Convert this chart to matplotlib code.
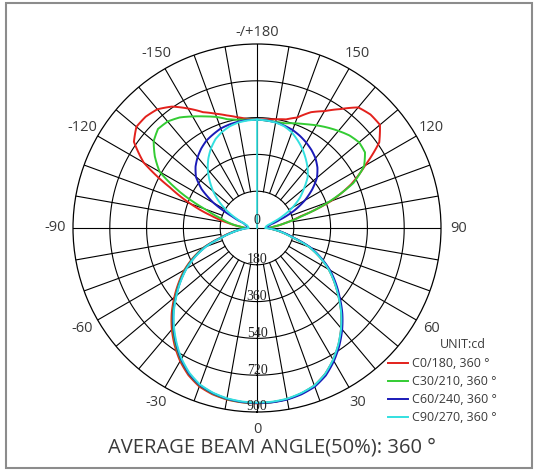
import numpy as np
import matplotlib
matplotlib.use('Agg')
import matplotlib.pyplot as plt
from matplotlib.patches import Rectangle

# gamma angles, -180..180 in 5 deg steps (0 = straight down)
angles = list(range(-180, 181, 5))

# luminous intensity per C plane (cd)
c0_180 = [530, 535, 550, 570, 595, 625, 675, 725, 758, 770, 770, 735, 640, 470, 345, 230, 145, 85, 55,
          82, 128, 185, 275, 345, 410, 468, 528, 590, 648, 702, 752, 794, 825, 842, 852, 856,
          858,
          855, 850, 838, 820, 788, 745, 695, 640, 582, 520, 462, 405, 340, 272, 180, 125, 80,
          55, 85, 140, 220, 385, 510, 610, 730, 785, 785, 770, 710, 660, 625, 575, 550, 540, 533, 530]
c30_210 = [530, 532, 537, 550, 578, 602, 630, 660, 680, 685, 660, 610, 550, 415, 270, 185, 135, 85, 55,
           80, 125, 180, 272, 340, 405, 462, 520, 582, 640, 695, 745, 788, 820, 838, 850, 855,
           856,
           855, 850, 838, 822, 790, 747, 697, 642, 584, 522, 464, 407, 342, 274, 182, 128, 82,
           55, 85, 140, 230, 375, 520, 605, 645, 652, 640, 620, 600, 580, 560, 545, 530, 527, 528, 530]
c60_240 = [530, 530, 528, 524, 518, 506, 494, 475, 452, 425, 390, 330, 245, 135, 70, 58, 50, 46, 45,
           78, 122, 178, 268, 336, 400, 458, 516, 578, 636, 690, 742, 786, 818, 836, 848, 854,
           856,
           856, 852, 842, 826, 796, 752, 702, 648, 590, 528, 470, 412, 345, 278, 186, 130, 85,
           50, 50, 55, 70, 120, 200, 270, 330, 383, 418, 445, 465, 482, 497, 510, 518, 525, 528, 530]
c90_270 = [530, 528, 524, 515, 500, 480, 450, 415, 375, 328, 280, 228, 172, 115, 70, 50, 45, 42, 40,
           76, 120, 176, 265, 334, 398, 456, 514, 575, 632, 686, 738, 782, 815, 834, 846, 852,
           854,
           853, 848, 836, 820, 788, 744, 694, 640, 582, 520, 462, 405, 340, 272, 180, 126, 80,
           40, 42, 45, 55, 85, 140, 200, 255, 300, 350, 385, 415, 445, 472, 498, 515, 524, 528, 530]

series = [c0_180, c30_210, c60_240, c90_270]
names = ['C0/180, 360 °', 'C30/210, 360 °', 'C60/240, 360 °', 'C90/270, 360 °']
colors = ['#e3211c', '#33cc33', '#1a1ab8', '#33e0e0']

ring_vals = [180, 360, 540, 720, 900]
tick_angles = [-180, -150, -120, -90, -60, -30, 0, 30, 60, 90, 120, 150]
tick_text = ['-/+180', '-150', '-120', '-90', '-60', '-30', '0',
             '30', '60', '90', '120', '150']

W, H = 534, 470
fig = plt.figure(figsize=(W / 100, H / 100), dpi=100)
cx, cy, R = 257, 228, 184
ax = fig.add_axes([(cx - R) / W, (H - cy - R) / H, 2 * R / W, 2 * R / H],
                  projection='polar')
ax.set_theta_zero_location('S')
ax.set_theta_direction(1)
ax.set_ylim(0, 900)
ax.grid(False)
ax.set_xticks([])
ax.set_yticks([])
ax.spines['polar'].set_linewidth(0.9)
ax.spines['polar'].set_color('black')

# grid: rings and spokes
tt = np.linspace(0, 2 * np.pi, 361)
for rv in ring_vals[:-1]:
    ax.plot(tt, np.full_like(tt, rv), color='black', lw=0.8)
for a in range(0, 360, 10):
    t = np.deg2rad(a)
    r0 = 0 if a % 90 == 0 else 180
    ax.plot([t, t], [r0, 900], color='black', lw=0.8)

th = np.deg2rad(angles)
lines = []
for vals, nm, col in zip(series, names, colors):
    ln, = ax.plot(th, vals, color=col, lw=1.4, label=nm)
    # draw segments as polar arcs rather than straight chords
    ln.get_path()._interpolation_steps = 20
    lines.append(ln)
# axis line of the C90 plane up to the 180 deg value
ax.plot([np.pi, np.pi], [0, c90_270[0]], color=colors[3], lw=1.2)

txtc = '#3a3a3a'
for a, s in zip(tick_angles, tick_text):
    r = 955 if a == -180 else 985
    ax.text(np.deg2rad(a), r, s, ha='center', va='center', fontsize=10.5,
            color=txtc, family='Open Sans', clip_on=False)

# radial scale along the 0 deg axis
for rv in ring_vals:
    ax.text(0, rv - 25, str(rv), ha='center', va='center', fontsize=10,
            family='Liberation Serif', color='#222222')
ax.text(np.pi, 35, '0', ha='center', va='center', fontsize=10,
        family='Liberation Serif', color='#222222')

leg = fig.legend(handles=lines, loc='upper left',
                 bbox_to_anchor=(388 / W, 1 - 357 / H),
                 frameon=False, handlelength=1.6,
                 handletextpad=0.3, labelspacing=0.4, borderpad=0,
                 borderaxespad=0, prop={'family': 'Open Sans', 'size': 9})
for t in leg.get_texts():
    t.set_color(txtc)
fig.text(463 / W, 1 - 345 / H, 'UNIT:cd', ha='center', va='center',
         fontsize=9, family='Open Sans', color=txtc)

fig.text(272 / W, 1 - 447 / H, 'AVERAGE BEAM ANGLE(50%): 360 °',
         ha='center', va='center', fontsize=14.5, family='Open Sans',
         color=txtc)

fig.patches.append(Rectangle((6 / W, 2 / H), 526 / W, 465 / H,
                             transform=fig.transFigure, fill=False,
                             edgecolor='#8c8c8c', lw=1.5))

fig.savefig('out.png', dpi=100)
